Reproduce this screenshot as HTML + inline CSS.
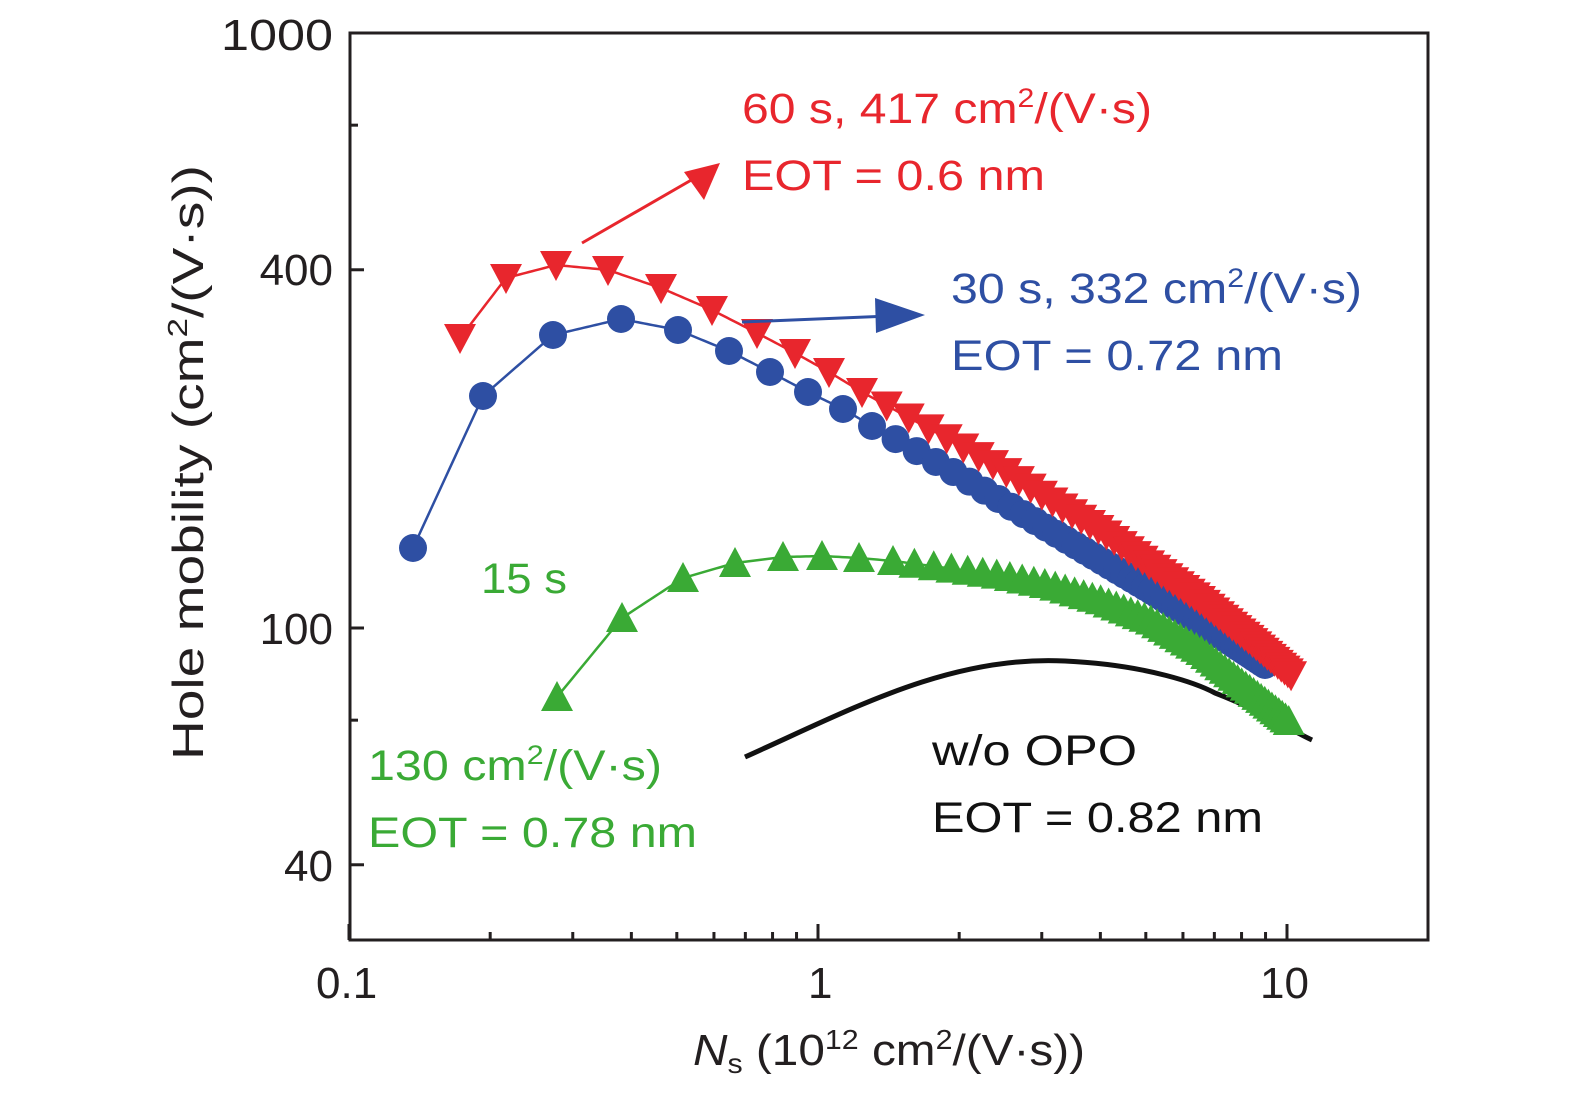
<!DOCTYPE html>
<html><head><meta charset="utf-8"><style>
body{margin:0;background:#fff;}
svg text{font-family:"Liberation Sans","DejaVu Sans",sans-serif;}
</style></head><body>
<svg id="s" width="1575" height="1100" viewBox="0 0 1575 1100" xmlns="http://www.w3.org/2000/svg">
<rect x="350" y="33" width="1078" height="907" fill="none" stroke="#231f20" stroke-width="3"/>
<g id="ticks" stroke="#231f20" stroke-width="3"></g>
<g font-size="44" fill="#231f20" text-anchor="end">
<text x="333" y="50" textLength="112" lengthAdjust="spacingAndGlyphs">1000</text><text x="333" y="285">400</text><text x="333" y="644">100</text><text x="333" y="881">40</text>
</g>
<g font-size="44" fill="#231f20">
<text x="316" y="998">0.1</text><text x="808" y="998">1</text><text x="1260" y="998">10</text>
<text x="693" y="1065" textLength="392" lengthAdjust="spacingAndGlyphs"><tspan font-style="italic">N</tspan><tspan font-size="28" dy="8">s</tspan><tspan dy="-8"> (10</tspan><tspan font-size="28" dy="-16">12</tspan><tspan dy="16"> cm</tspan><tspan font-size="28" dy="-16">2</tspan><tspan dy="16">/(V·s))</tspan></text>
<text transform="translate(203,760) rotate(-90)" textLength="595" lengthAdjust="spacingAndGlyphs">Hole mobility (cm<tspan font-size="28" dy="-16">2</tspan><tspan dy="16">/(V·s))</tspan></text>
</g>
<path d="M745,757 C850,710 950,655 1065,661 C1150,665 1200,685 1215,693 C1260,710 1290,730 1312,740" fill="none" stroke="#111" stroke-width="5"/>
<g id="series"></g>
<g stroke-width="3" fill="none">
<line x1="582" y1="243" x2="700" y2="175" stroke="#e8262d"/>
<line x1="742" y1="322" x2="890" y2="316" stroke="#2e4fa3"/>
</g>
<polygon points="720,163 684,172 704,200" fill="#e8262d"/>
<polygon points="925,315 875,298 876,333" fill="#2e4fa3"/>
<g font-size="43" lengthAdjust="spacingAndGlyphs">
<text x="742" y="123" fill="#e8262d" textLength="410" lengthAdjust="spacingAndGlyphs">60 s, 417 cm<tspan font-size="27" dy="-16">2</tspan><tspan dy="16">/(V·s)</tspan></text>
<text x="742" y="190" fill="#e8262d" textLength="303" lengthAdjust="spacingAndGlyphs">EOT = 0.6 nm</text>
<text x="951" y="303" fill="#2e4fa3" textLength="411" lengthAdjust="spacingAndGlyphs">30 s, 332 cm<tspan font-size="27" dy="-16">2</tspan><tspan dy="16">/(V·s)</tspan></text>
<text x="951" y="370" fill="#2e4fa3" textLength="332" lengthAdjust="spacingAndGlyphs">EOT = 0.72 nm</text>
<text x="481" y="593" fill="#3aaa35" textLength="86" lengthAdjust="spacingAndGlyphs">15 s</text>
<text x="368" y="780" fill="#3aaa35" textLength="294" lengthAdjust="spacingAndGlyphs">130 cm<tspan font-size="27" dy="-16">2</tspan><tspan dy="16">/(V·s)</tspan></text>
<text x="368" y="847" fill="#3aaa35" textLength="329" lengthAdjust="spacingAndGlyphs">EOT = 0.78 nm</text>
<text x="932" y="765" fill="#111" textLength="205" lengthAdjust="spacingAndGlyphs">w/o OPO</text>
<text x="932" y="832" fill="#111" textLength="331" lengthAdjust="spacingAndGlyphs">EOT = 0.82 nm</text>
</g>
</svg>
<script>
var NS="http://www.w3.org/2000/svg";
function el(t,a,p){var e=document.createElementNS(NS,t);for(var k in a)e.setAttribute(k,a[k]);p.appendChild(e);return e;}
var tk=document.getElementById('ticks');
function xp(v){return 349+469*(Math.log10(v)+1);}
function yp(v){return 33+595*(3-Math.log10(v));}
[0.1,1,10].forEach(function(d){for(var m=1;m<10;m++){var v=d*m;var x=xp(v);if(x>1427)return;var L=m==1?16:8;el('line',{x1:x,y1:940,x2:x,y2:940-L},tk);}});
[[1000,14],[700,8],[400,14],[100,14],[70,8],[40,14]].forEach(function(t){var y=yp(t[0]);el('line',{x1:350,y1:y,x2:350+t[1],y2:y},tk);});
function interp(pts,x){for(var i=0;i<pts.length-1;i++){if(x>=pts[i][0]&&x<=pts[i+1][0]){var t=(x-pts[i][0])/(pts[i+1][0]-pts[i][0]);return pts[i][1]+t*(pts[i+1][1]-pts[i][1]);}}return pts[pts.length-1][1];}
var sg=document.getElementById('series');
function series(pts,first,color,shape){
 var xs=first.slice();var last=xs[xs.length-1];var endx=pts[pts.length-1][0];
 var ns=Math.pow(10,(last-349)/469-1);
 while(true){ns+=0.16;var x=xp(ns);if(x>endx)break;xs.push(x);}
 if(endx-xs[xs.length-1]>2)xs.push(endx);
 var d='';for(var x=pts[0][0];x<=endx;x+=3){d+=(d?'L':'M')+x+','+interp(pts,x);}
 el('path',{d:d,fill:'none',stroke:color,'stroke-width':2.5},sg);
 xs.forEach(function(x){var y=interp(pts,x);
  if(shape=='c')el('circle',{cx:x,cy:y,r:14,fill:color},sg);
  else if(shape=='d')el('polygon',{points:(x-16)+','+(y-14)+' '+(x+16)+','+(y-14)+' '+x+','+(y+16),fill:color},sg);
  else el('polygon',{points:(x-16)+','+(y+14)+' '+(x+16)+','+(y+14)+' '+x+','+(y-16),fill:color},sg);});
}
series([[413,548],[483,396],[553,335],[621,319],[678,330],[729,351],[770,372],[808,392],[843,409],[872,426],[899,441],[950,470],[1000,500],[1050,530],[1100,560],[1150,590],[1200,622],[1265,665]],[413,483,553,621,678,729,770,808,843,872],'#2e4fa3','c');
series([[557,697],[622,618],[683,578],[735,563],[783,557],[822,556],[859,558],[893,561],[924,565],[1000,575],[1050,585],[1100,600],[1150,620],[1200,650],[1250,690],[1290,722]],[557,622,683,735,783,822,859,893],'#3aaa35','u');
series([[460,338],[506,278],[556,265],[608,270],[661,288],[712,310],[757,333],[795,353],[829,372],[862,392],[893,409],[950,440],[1000,468],[1050,500],[1100,530],[1150,565],[1200,600],[1250,640],[1292,676]],[460,506,556,608,661,712,757,795,829,862],'#e8262d','d');
</script>
</body></html>
